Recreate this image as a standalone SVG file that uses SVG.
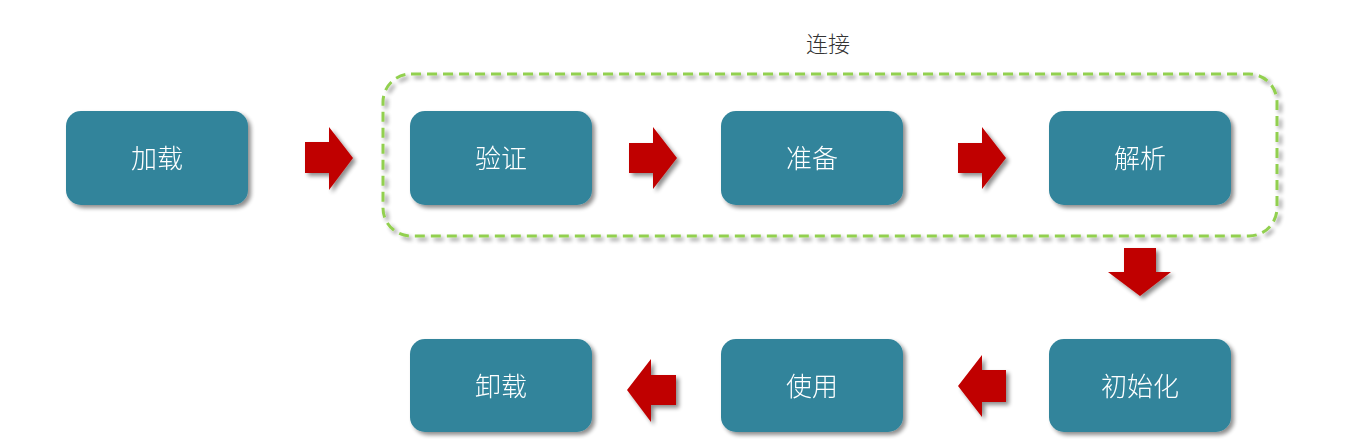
<svg xmlns="http://www.w3.org/2000/svg" width="1351" height="439" viewBox="0 0 1351 439">
<defs>
<filter id="sh" x="-10%" y="-10%" width="125%" height="130%">
<feGaussianBlur in="SourceAlpha" stdDeviation="2"/>
<feOffset dx="3" dy="3" result="b"/>
<feComponentTransfer><feFuncA type="linear" slope="0.45"/></feComponentTransfer>
<feMerge><feMergeNode/><feMergeNode in="SourceGraphic"/></feMerge>
</filter>
<style>
.n rect{fill:#31849b;}
.n text{fill:#ffffff;font-family:"Noto Sans CJK SC",sans-serif;font-size:26px;font-weight:300;text-anchor:middle;dominant-baseline:central;}
.a{fill:#c00000;}
.lbl{fill:#333333;font-family:"Noto Sans CJK SC",sans-serif;font-size:22px;font-weight:300;text-anchor:middle;}
</style>
</defs>
<rect width="1351" height="439" fill="#ffffff"/>
<g id="group-link">
<rect x="383" y="74" width="894" height="162" rx="28" fill="none" stroke="#92d050" stroke-width="3" stroke-dasharray="10 6" filter="url(#sh)"/>
<text class="lbl" x="828" y="52">连接</text>
</g>
<g id="node-load" class="n" filter="url(#sh)"><rect x="66" y="111" width="182" height="94" rx="15"/><text x="157" y="156">加载</text></g>
<g id="node-verify" class="n" filter="url(#sh)"><rect x="410" y="111" width="182" height="94" rx="15"/><text x="501" y="156">验证</text></g>
<g id="node-prepare" class="n" filter="url(#sh)"><rect x="721" y="111" width="182" height="94" rx="15"/><text x="812" y="156">准备</text></g>
<g id="node-resolve" class="n" filter="url(#sh)"><rect x="1049" y="111" width="182" height="94" rx="15"/><text x="1140" y="156">解析</text></g>
<g id="node-unload" class="n" filter="url(#sh)"><rect x="410" y="339" width="182" height="93" rx="15"/><text x="501" y="384">卸载</text></g>
<g id="node-use" class="n" filter="url(#sh)"><rect x="721" y="339" width="182" height="93" rx="15"/><text x="812" y="384">使用</text></g>
<g id="node-init" class="n" filter="url(#sh)"><rect x="1049" y="339" width="182" height="93" rx="15"/><text x="1140" y="384">初始化</text></g>
<g id="connectors" filter="url(#sh)">
<polygon class="a" points="305,142 329,142 329,127 353,158 329,190 329,173 305,173"/>
<polygon class="a" points="629,143 653,143 653,127 677,158 653,189 653,173 629,173"/>
<polygon class="a" points="958,143 982,143 982,127 1006,158 982,189 982,173 958,173"/>
<polygon class="a" points="1124,248 1156,248 1156,272 1171,272 1140,296 1108,272 1124,272"/>
<polygon class="a" points="1006,370 982,370 982,355 958,386 982,417 982,402 1006,402"/>
<polygon class="a" points="676,375 651,375 651,359 627,390 651,422 651,405 676,405"/>
</g>
</svg>
